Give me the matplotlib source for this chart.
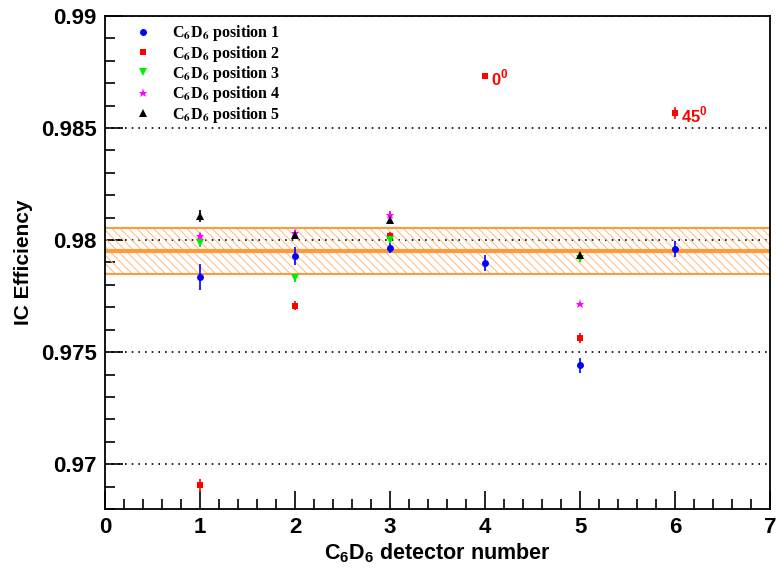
import matplotlib
matplotlib.use('Agg')
import matplotlib.pyplot as plt
from matplotlib.ticker import MultipleLocator

plt.rcParams['font.family'] = 'Liberation Sans'
plt.rcParams['font.weight'] = 'bold'
plt.rcParams['mathtext.fontset'] = 'custom'
plt.rcParams['mathtext.bf'] = 'Liberation Sans:bold'
plt.rcParams['mathtext.rm'] = 'Liberation Sans:bold'
plt.rcParams['hatch.linewidth'] = 0.7

# IC efficiency per C6D6 position (x = detector number)
pos1_x = [1, 2, 3, 4, 5, 6]
pos1_y = [0.97835, 0.97927, 0.97966, 0.97897, 0.97442, 0.97960]
pos1_err = [0.00058, 0.00040, 0.00022, 0.00035, 0.00033, 0.00035]

pos2_x = [1, 2, 3, 5]
pos2_y = [0.96906, 0.97707, 0.98020, 0.97563]
pos2_err = [0.00030, 0.00020, 0.00015, 0.00022]

pos3_x = [1, 2, 3, 5]
pos3_y = [0.97987, 0.97829, 0.98001, 0.97915]
pos3_err = [0.00020, 0.00015, 0.00015, 0.00015]

pos4_x = [1, 2, 3, 5]
pos4_y = [0.98016, 0.98032, 0.98113, 0.97714]
pos4_err = [0.00015, 0.00015, 0.00015, 0.00010]

pos5_x = [1, 2, 3, 5]
pos5_y = [0.98108, 0.98024, 0.98091, 0.97934]
pos5_err = [0.00027, 0.00018, 0.00018, 0.00010]

# angled measurements (red) with labels
angle_x = [4, 6]
angle_y = [0.98733, 0.98566]
angle_err = [0.00012, 0.00027]
angle_labels = [r'0$^{\mathbf{0}}$', r'45$^{\mathbf{0}}$']

# mean and its uncertainty band
mean_eff = 0.97952
mean_err = 0.00104

fig = plt.figure(figsize=(7.81, 5.71), dpi=100)
ax = fig.add_axes([0.1345, 0.1086, 0.8515, 0.8634])

orange = '#ff9a3c'
ax.axhspan(mean_eff - mean_err, mean_eff + mean_err, facecolor='none',
           edgecolor='#ffb878', hatch='\\\\\\\\', linewidth=0, zorder=1)
ax.axhline(mean_eff - mean_err, color=orange, lw=1.5, zorder=1)
ax.axhline(mean_eff + mean_err, color=orange, lw=1.5, zorder=1)
ax.axhline(mean_eff, color=orange, lw=3, zorder=1)

series = [
    (pos1_x, pos1_y, pos1_err, 'o', '#0000ff', 5),
    (pos2_x, pos2_y, pos2_err, 's', '#ff0000', 5),
    (pos3_x, pos3_y, pos3_err, 'v', '#00ee00', 5.5),
    (pos4_x, pos4_y, pos4_err, '*', '#ff00ff', 6.5),
    (pos5_x, pos5_y, pos5_err, '^', '#000000', 5.5),
]
labels = [r'C$_{\mathbf{6}}$D$_{\mathbf{6}}$ position %d' % i for i in range(1, 6)]

handles = []
for (xs, ys, es, mk, col, ms), lab in zip(series, labels):
    h = ax.errorbar(xs, ys, yerr=es, fmt=mk, color=col, ms=ms, mew=0,
                    elinewidth=1.2, capsize=1.5, zorder=3, label=lab)
    handles.append(h[0])

ax.errorbar(angle_x, angle_y, yerr=angle_err, fmt='s', color='#ff0000', ms=5,
            mew=0, elinewidth=1.2, capsize=1.5, zorder=3)
for x, y, t in zip(angle_x, angle_y, angle_labels):
    ax.text(x + 0.06, y - 0.0001, t, color='#ff0000', fontsize=12,
            fontweight='bold', va='center', ha='left')

leg = ax.legend(handles, labels, loc='upper left', bbox_to_anchor=(0.0265, 1.008),
                frameon=False, handlelength=1.2, handletextpad=1.2,
                labelspacing=0.02, borderaxespad=0.3,
                prop={'family': 'Liberation Serif', 'weight': 'bold', 'size': 11.5,
                      'math_fontfamily': 'stix'})

ax.set_xlim(0, 7)
ax.set_ylim(0.968, 0.99)
ax.xaxis.set_major_locator(MultipleLocator(1))
ax.xaxis.set_minor_locator(MultipleLocator(0.2))
ax.yaxis.set_major_locator(MultipleLocator(0.005))
ax.yaxis.set_minor_locator(MultipleLocator(0.001))
ax.yaxis.set_major_formatter(matplotlib.ticker.FuncFormatter(lambda v, p: ('%g' % round(v, 4))))
ax.tick_params(which='both', direction='in', top=False, right=False,
               labelsize=16, width=1.2)
ax.tick_params(which='major', length=13)
ax.tick_params(axis='y', which='major', pad=6)
ax.tick_params(axis='x', which='major', pad=6)
ax.tick_params(which='minor', length=7)
ax.yaxis.grid(True, which='major', linestyle=(0, (1, 3)), color='k', lw=1.2, zorder=0)
ax.set_axisbelow(True)
for s in ax.spines.values():
    s.set_linewidth(1.3)

ax.set_ylabel('IC Efficiency', fontsize=15, fontweight='bold')
ax.yaxis.set_label_coords(-0.108, 0.5)
ax.set_xlabel(r'C$_{\mathbf{6}}$D$_{\mathbf{6}}$ detector number', fontsize=15.5,
              fontweight='bold', labelpad=2)

plt.savefig('out.png', dpi=100)
